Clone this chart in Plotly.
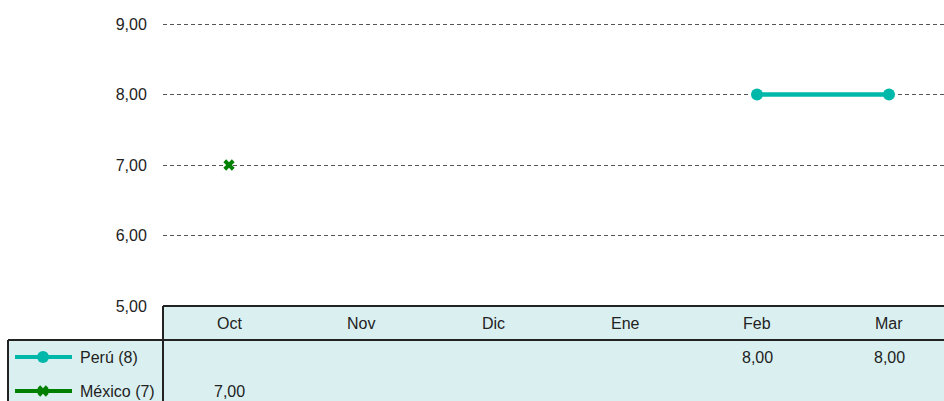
import plotly.graph_objects as go

months = ["Oct", "Nov", "Dic", "Ene", "Feb", "Mar"]
peru_name = "Perú (8)"
peru_values = [None, None, None, None, 8.00, 8.00]
mexico_name = "México (7)"
mexico_values = [7.00, None, None, None, None, None]
y_ticks = [5, 6, 7, 8, 9]
y_tick_labels = ["5,00", "6,00", "7,00", "8,00", "9,00"]

W, H = 944, 401
PERU_COLOR = "#00B8AA"
MEX_COLOR = "#008000"
TABLE_BG = "#DAF0F0"
FONT = "Liberation Sans, Arial, sans-serif"
FS = 16


def px(x):
    return x / W


def py(y):
    return 1 - y / H


def fmt(v):
    return f"{v:.2f}".replace(".", ",")


fig = go.Figure()

fig.add_trace(go.Scatter(
    x=months, y=peru_values, mode="lines+markers", name=peru_name,
    line=dict(color=PERU_COLOR, width=4.5),
    marker=dict(symbol="circle", size=12, color=PERU_COLOR),
    connectgaps=False, showlegend=False, cliponaxis=False,
))
fig.add_trace(go.Scatter(
    x=months, y=mexico_values, mode="lines+markers", name=mexico_name,
    line=dict(color=MEX_COLOR, width=4),
    marker=dict(symbol="x", size=10, color=MEX_COLOR),
    connectgaps=False, showlegend=False, cliponaxis=False,
))

# legend samples inside the table's left column
series = [(peru_name, PERU_COLOR, "circle", 12, 357), (mexico_name, MEX_COLOR, "x", 10, 391)]
for name, color, sym, size, ypix in series:
    fig.add_trace(go.Scatter(
        x=[15, 72], y=[-ypix, -ypix], mode="lines",
        line=dict(color=color, width=4), xaxis="x2", yaxis="y2",
        showlegend=False, hoverinfo="skip",
    ))
    fig.add_trace(go.Scatter(
        x=[43], y=[-ypix], mode="markers",
        marker=dict(symbol=sym, size=size, color=color), xaxis="x2", yaxis="y2",
        showlegend=False, hoverinfo="skip", cliponaxis=False,
    ))

shapes = []
shapes.append(dict(type="rect", xref="paper", yref="paper", x0=px(163), x1=1.0,
                   y0=py(340), y1=py(306), fillcolor=TABLE_BG, line_width=0, layer="below"))
shapes.append(dict(type="rect", xref="paper", yref="paper", x0=px(8), x1=1.0,
                   y0=-0.1, y1=py(340), fillcolor=TABLE_BG, line_width=0, layer="below"))
bc = "#222222"
shapes.append(dict(type="line", xref="paper", yref="paper", x0=px(163), x1=1.0,
                   y0=py(306), y1=py(306), line=dict(color=bc, width=2)))
shapes.append(dict(type="line", xref="paper", yref="paper", x0=px(8), x1=1.0,
                   y0=py(340), y1=py(340), line=dict(color=bc, width=2)))
shapes.append(dict(type="line", xref="paper", yref="paper", x0=px(163), x1=px(163),
                   y0=-0.1, y1=py(306), line=dict(color=bc, width=2)))
shapes.append(dict(type="line", xref="paper", yref="paper", x0=px(8), x1=px(8),
                   y0=-0.1, y1=py(340), line=dict(color=bc, width=2)))

annotations = []
for m in months:
    annotations.append(dict(x=m, xref="x", y=py(323), yref="paper", text=m, showarrow=False,
                            font=dict(family=FONT, size=FS, color="#222"), xanchor="center", yanchor="middle"))
for (name, color, sym, size, ypix), vals in zip(series, [peru_values, mexico_values]):
    annotations.append(dict(x=px(78), xref="paper", y=py(ypix), yref="paper", text=name, showarrow=False,
                            font=dict(family=FONT, size=FS, color="#222"), xanchor="left", yanchor="middle"))
    for m, v in zip(months, vals):
        if v is not None:
            annotations.append(dict(x=m, xref="x", y=py(ypix), yref="paper", text=fmt(v), showarrow=False,
                                    font=dict(family=FONT, size=FS, color="#222"), xanchor="center", yanchor="middle"))

y_top_px = 24 - 0.2 * (306 - 24) / 4
fig.update_layout(
    width=W, height=H,
    margin=dict(l=0, r=0, t=0, b=0, pad=0, autoexpand=False),
    paper_bgcolor="white", plot_bgcolor="white",
    font=dict(family=FONT, size=FS, color="#222"),
    xaxis=dict(type="category", categoryorder="array", categoryarray=months,
               domain=[px(163), 1.0], range=[-0.5, 5.5 - 11 / 132],
               showticklabels=False, showgrid=False, zeroline=False, showline=False, ticks=""),
    yaxis=dict(domain=[py(306), py(y_top_px)], range=[5, 9.2],
               tickvals=y_ticks, ticktext=y_tick_labels,
               showgrid=True, gridcolor="#555555", gridwidth=1, griddash="4px,3px",
               zeroline=False, showline=False, ticks="outside", ticklen=12,
               tickcolor="rgba(0,0,0,0)", tickfont=dict(family=FONT, size=FS, color="#222")),
    xaxis2=dict(domain=[0, px(163)], range=[0, 163], visible=False, anchor="y2"),
    yaxis2=dict(domain=[0, py(340)], range=[-401, -340], visible=False, anchor="x2"),
    shapes=shapes,
    annotations=annotations,
    showlegend=False,
)

fig.write_html(
    "out.html",
    config={"displayModeBar": False},
    post_script="document.body.style.margin='0';document.body.style.overflow='hidden';",
)
